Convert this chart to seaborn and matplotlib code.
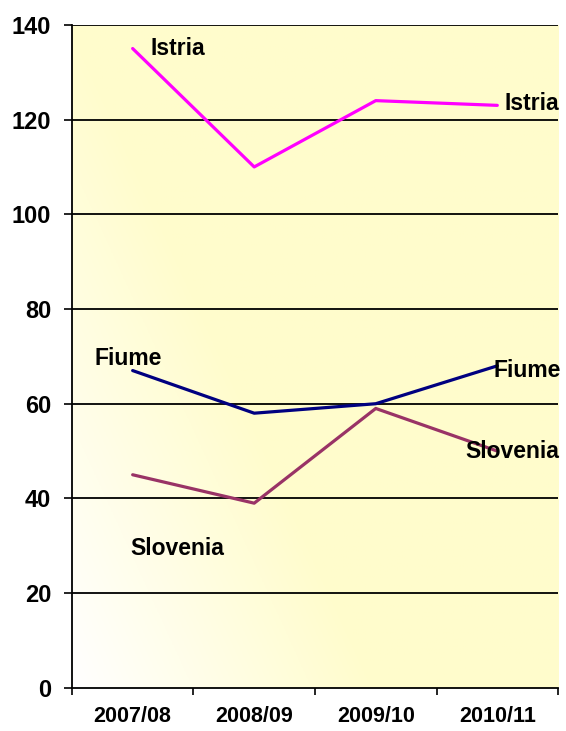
import matplotlib.pyplot as plt
import seaborn as sns
import pandas as pd
import numpy as np

seasons = ["2007/08", "2008/09", "2009/10", "2010/11"]
istria = [135, 110, 124, 123]
fiume = [67, 58, 60, 68]
slovenia = [45, 39, 59, 50]

sns.set_theme(style="white")
plt.rcParams["font.family"] = ["Liberation Sans", "DejaVu Sans"]

df = pd.DataFrame({
    "season": seasons * 3,
    "value": istria + fiume + slovenia,
    "region": ["Istria"] * 4 + ["Fiume"] * 4 + ["Slovenia"] * 4,
})
df["x"] = df["season"].map({s: i for i, s in enumerate(seasons)})
colors = {"Istria": "#FF00FF", "Fiume": "#000080", "Slovenia": "#993366"}

fig = plt.figure(figsize=(5.66, 7.31), dpi=100)
ax = fig.add_axes([0.127, 0.059, 0.859, 0.907])

# white -> pale yellow background, mostly left to right
gx, gy = np.meshgrid(np.linspace(0, 1, 200), np.linspace(0, 1, 200))
t = np.clip(1.6 * gx + 1.0 * gy, 0, 1)
white = np.array([1.0, 1.0, 1.0])
yellow = np.array([1.0, 0.99, 0.80])
img = white + (yellow - white) * t[..., None]
ax.imshow(img, extent=[0, 1, 0, 1], transform=ax.transAxes, origin="lower",
          aspect="auto", zorder=0)

for y in range(20, 141, 20):
    ax.axhline(y, color="black", lw=1.3, zorder=1)

sns.lineplot(data=df, x="x", y="value", hue="region", palette=colors,
             lw=2.3, legend=False, ax=ax, zorder=3)

lab = dict(fontsize=16.5, fontweight="bold", color="black", zorder=4)
ax.text(0.15, 135, "Istria", ha="left", va="center", **lab)
ax.text(3.06, 123.3, "Istria", ha="left", va="center", **lab)
ax.text(-0.31, 69.5, "Fiume", ha="left", va="center", **lab)
ax.text(2.97, 67, "Fiume", ha="left", va="center", **lab)
ax.text(2.74, 50, "Slovenia", ha="left", va="center", **lab)
ax.text(-0.02, 29.5, "Slovenia", ha="left", va="center", **lab)

ax.set_xlim(-0.5, 3.5)
ax.set_ylim(0, 140)
ax.set_yticks(range(0, 141, 20))
ax.set_xticks(range(4))
ax.set_xticklabels(seasons)
ax.set_xticks(np.arange(-0.5, 3.6, 1), minor=True)
ax.tick_params(axis="x", which="major", length=0, pad=13, labelsize=15.5,
               labelcolor="black")
ax.tick_params(axis="x", which="minor", length=5, width=1.2, color="black",
               direction="out", bottom=True)
ax.tick_params(axis="y", length=6, width=1.2, color="black", direction="out",
               left=True, labelsize=17, labelcolor="black", pad=9)
for lbl in ax.get_xticklabels() + ax.get_yticklabels():
    lbl.set_fontweight("bold")
ax.set_xlabel("")
ax.set_ylabel("")

for side in ["top", "right"]:
    ax.spines[side].set_visible(False)
for side in ["left", "bottom"]:
    ax.spines[side].set_color("black")
    ax.spines[side].set_linewidth(1.3)
    ax.spines[side].set_zorder(5)

fig.savefig("out.png", dpi=100, facecolor="white")
